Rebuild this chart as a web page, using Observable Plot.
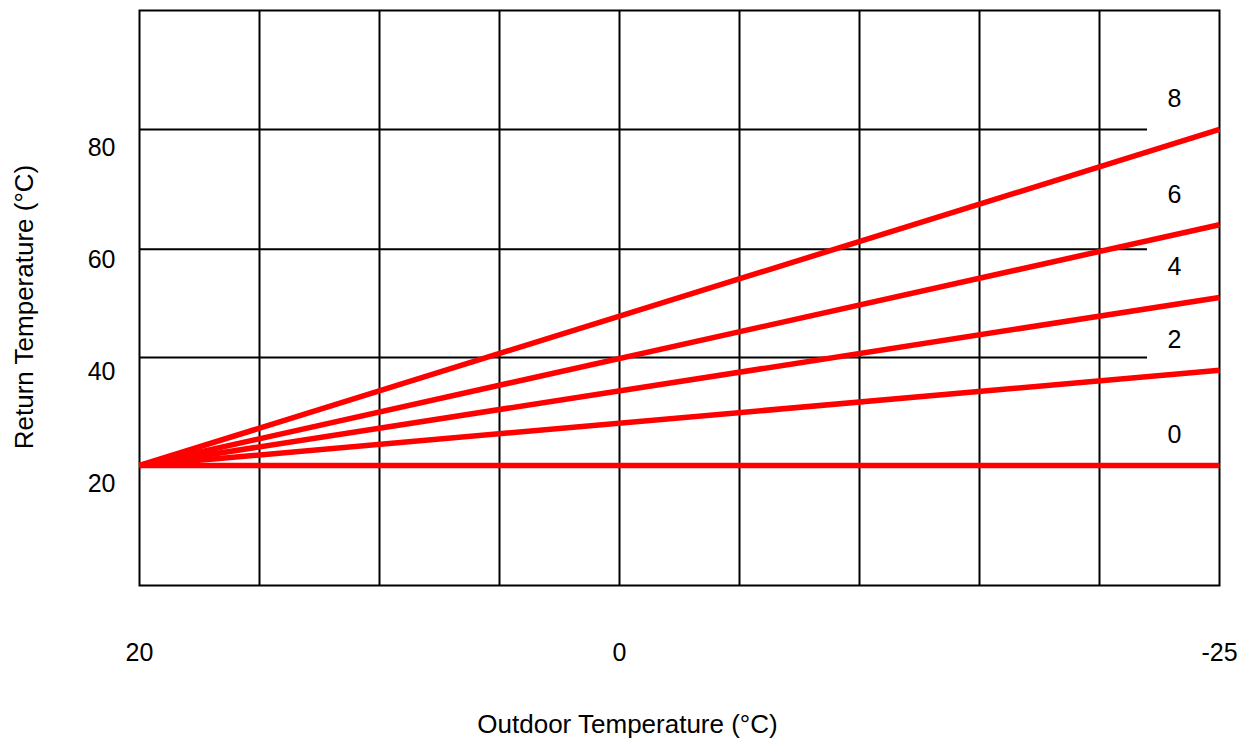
<!DOCTYPE html>
<html><head><meta charset="utf-8">
<script src="https://cdn.jsdelivr.net/npm/d3@7"></script>
<script src="https://cdn.jsdelivr.net/npm/@observablehq/plot@0.6"></script>
<style>body{margin:0;background:#fff;}</style>
</head><body><div id="chart"></div>
<script>
const curveLabels = ["0", "2", "4", "6", "8"];
const outdoorStart = 20;
const outdoorEnd = -25;
const returnAtStart = [20, 20, 20, 20, 20];
const returnAtEnd = [20, 37, 50, 63, 80];
const xTickValues = [20, 0, -25];
const yTickValues = [20, 40, 60, 80];
const xGridValues = [15, 10, 5, 0, -5, -10, -15, -20];
const yGridValues = [39.3, 58.6, 80];

const lineData = curveLabels.flatMap((c, i) => [
  {curve: c, x: outdoorStart, y: returnAtStart[i]},
  {curve: c, x: outdoorEnd, y: returnAtEnd[i]}
]);
const endData = curveLabels.map((c, i) => ({curve: c, x: outdoorEnd, y: returnAtEnd[i]}));

const font = "'Liberation Sans', Arial, Helvetica, sans-serif";
const chart = Plot.plot({
  width: 1243, height: 738,
  marginLeft: 139, marginRight: 24, marginTop: 10, marginBottom: 153,
  style: {fontFamily: font, fontSize: "25px", background: "#fff", color: "#000"},
  x: {domain: [20, -25]},
  y: {domain: [-1.43, 101.25]},
  marks: [
    Plot.ruleX(xGridValues, {stroke: "#000", strokeWidth: 2}),
    Plot.ruleY(yGridValues, {x1: 20, x2: -22, stroke: "#000", strokeWidth: 2}),
    Plot.frame({stroke: "#000", strokeWidth: 2}),
    Plot.line(lineData, {x: "x", y: "y", z: "curve", stroke: "#ff0000", strokeWidth: 5.5, strokeLinecap: "butt"}),
    Plot.text(endData, {x: "x", y: "y", text: "curve", dx: -45, dy: -30, fontSize: 25, fill: "#000"}),
    Plot.axisX(xTickValues, {tickSize: 0, tickPadding: 58, fontSize: 25, label: null, tickFormat: d => `${d}`}),
    Plot.axisY(yTickValues, {tickSize: 0, tickPadding: 24, dy: 19, fontSize: 25, label: null, tickFormat: d => `${d}`}),
    Plot.text(["Outdoor Temperature (°C)"], {text: d => d, frameAnchor: "bottom", textAnchor: "middle", lineAnchor: "middle", dx: -52, dy: 139, fontSize: 26, fill: "#000"}),
    Plot.text(["Return Temperature (°C)"], {text: d => d, frameAnchor: "left", textAnchor: "middle", lineAnchor: "middle", rotate: -90, dx: -115, dy: 9, fontSize: 26, fill: "#000"})
  ]
});
document.getElementById("chart").append(chart);
</script>
</body></html>
